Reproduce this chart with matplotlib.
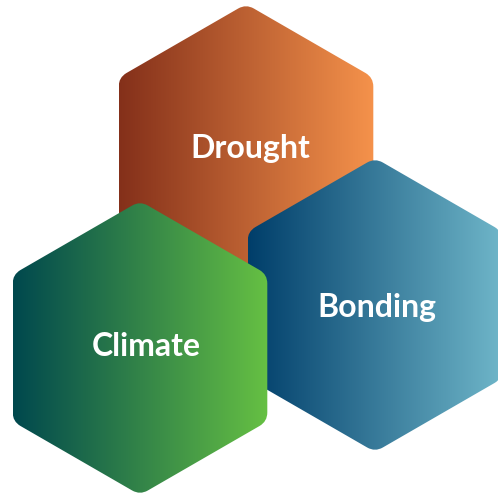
import matplotlib
matplotlib.use("Agg")
import matplotlib.pyplot as plt
import numpy as np
from matplotlib.path import Path
from matplotlib.patches import PathPatch
from matplotlib.colors import LinearSegmentedColormap

# diagram content
labels = ["Drought", "Bonding", "Climate"]
left_colors = ["#84301A", "#003E6A", "#00484E"]
right_colors = ["#F5924B", "#6FB6C9", "#66C043"]

# layout (pixels, y down), drawn in this order
centers = [(246, 151), (375, 305), (140, 348)]
radius = 147
corner = 9
text_pos = [(250, 158), (377, 317), (146, 356)]


def rounded_hexagon(cx, cy, R, r):
    ang = np.deg2rad(np.arange(6) * 60 - 90)
    pts = np.column_stack([cx + R * np.cos(ang), cy + R * np.sin(ang)])
    verts, codes = [], []
    for i in range(6):
        p = pts[i]
        prev = pts[i - 1]
        nxt = pts[(i + 1) % 6]
        a = p + (prev - p) / np.linalg.norm(prev - p) * r
        b = p + (nxt - p) / np.linalg.norm(nxt - p) * r
        verts.append(a)
        codes.append(Path.MOVETO if i == 0 else Path.LINETO)
        verts += [p, b]
        codes += [Path.CURVE3, Path.CURVE3]
    verts.append(verts[0])
    codes.append(Path.CLOSEPOLY)
    return Path(np.array(verts), codes)


fig = plt.figure(figsize=(4.98, 4.93), dpi=100)
ax = fig.add_axes([0, 0, 1, 1])
ax.axis("off")

grad = np.linspace(0, 1, 256).reshape(1, -1)
for lab, c1, c2, (cx, cy), (tx, ty) in zip(labels, left_colors, right_colors, centers, text_pos):
    path = rounded_hexagon(cx, cy, radius, corner)
    patch = PathPatch(path, facecolor="none", edgecolor="none")
    ax.add_patch(patch)
    hw = radius * np.cos(np.pi / 6)
    cmap = LinearSegmentedColormap.from_list(lab, [c1, c2])
    im = ax.imshow(grad, cmap=cmap, aspect="auto",
                   extent=[cx - hw, cx + hw, cy + radius, cy - radius])
    im.set_clip_path(patch)
    ax.text(tx, ty, lab, color="white", fontsize=23, fontweight="bold",
            family="Lato", ha="center", va="baseline")

ax.set_xlim(0, 498)
ax.set_ylim(493, 0)
fig.savefig("out.png", dpi=100)
